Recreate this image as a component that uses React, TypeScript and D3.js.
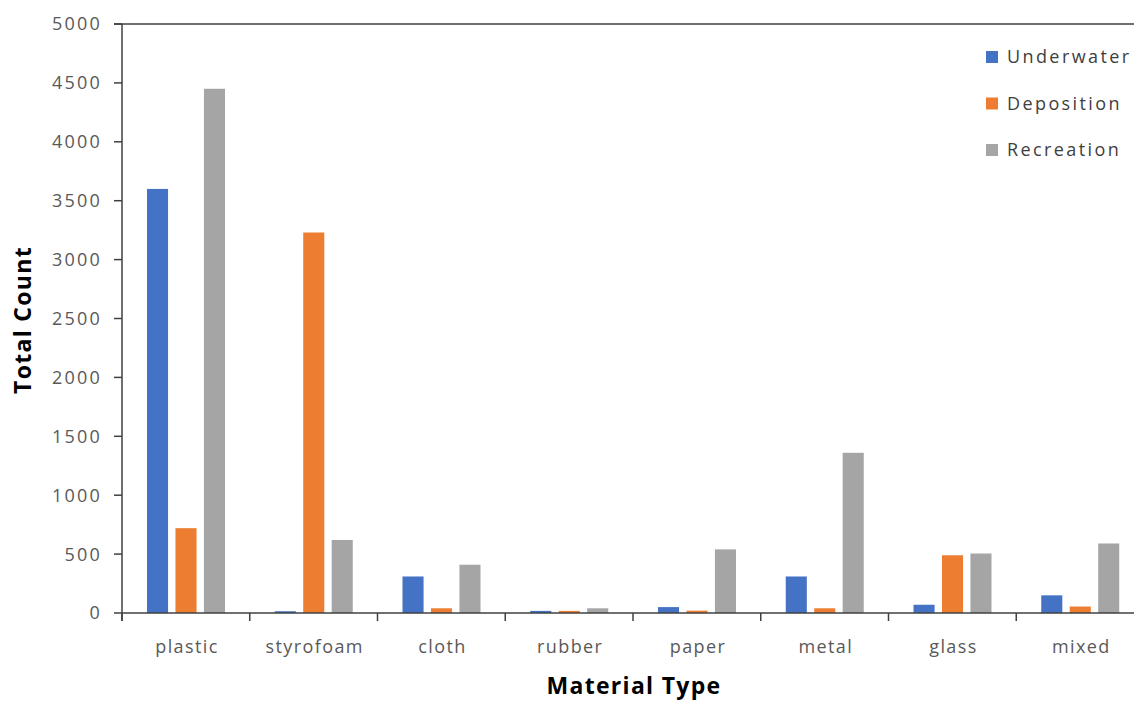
import React from "react";
import * as d3 from "d3";

const categories = ["plastic", "styrofoam", "cloth", "rubber", "paper", "metal", "glass", "mixed"];
const seriesNames = ["Underwater", "Deposition", "Recreation"];
const underwater = [3600, 15, 310, 18, 50, 310, 70, 150];
const deposition = [720, 3230, 40, 18, 20, 40, 490, 55];
const recreation = [4450, 620, 410, 40, 540, 1360, 505, 590];
const yTicks = [0, 500, 1000, 1500, 2000, 2500, 3000, 3500, 4000, 4500, 5000];
const colors = ["#4472C4", "#ED7D31", "#A5A5A5"];

const W = 1134;
const H = 701;
const left = 122;
const top = 24;
const bottom = 613;
const bandW = 127.75;

export default function App() {
  const seriesValues = [underwater, deposition, recreation];
  const y = d3.scaleLinear().domain([0, 5000]).range([bottom, top]);
  const x0 = d3
    .scaleBand<string>()
    .domain(categories)
    .range([left, left + bandW * categories.length])
    .padding(0);
  const x1 = d3.scaleBand<string>().domain(seriesNames).range([25, 103]).paddingInner(0.26).paddingOuter(0);
  const axisColor = "#404040";
  const font = "'Open Sans', 'Liberation Sans', sans-serif";
  const boundaries = d3.range(categories.length + 1).map((i) => left + i * x0.step());

  return (
    <svg
      width={W}
      height={H}
      style={{ position: "absolute", left: 0, top: 0, background: "#fff" }}
    >
      {/* bars */}
      {categories.map((c, ci) => (
        <g key={c} transform={`translate(${x0(c)},0)`}>
          {seriesNames.map((s, si) => {
            const v = seriesValues[si][ci];
            return (
              <rect
                key={s}
                x={x1(s)}
                y={y(v)}
                width={x1.bandwidth()}
                height={bottom - y(v)}
                fill={colors[si]}
              />
            );
          })}
        </g>
      ))}
      {/* top line */}
      <line x1={114} x2={W} y1={top} y2={top} stroke={axisColor} strokeWidth={1.5} />
      {/* y axis */}
      <line x1={left} x2={left} y1={top} y2={bottom + 8} stroke={axisColor} strokeWidth={1.5} />
      {yTicks.map((t) => (
        <g key={t}>
          <line x1={114} x2={left} y1={y(t)} y2={y(t)} stroke={axisColor} strokeWidth={1.5} />
          <text
            x={102}
            y={y(t)}
            dy="0.36em"
            textAnchor="end"
            fontFamily={font}
            fontSize={18}
            letterSpacing={2.2}
            fill="#595959"
          >
            {t}
          </text>
        </g>
      ))}
      {/* x axis */}
      <line x1={left} x2={W} y1={bottom} y2={bottom} stroke={axisColor} strokeWidth={1.5} />
      {boundaries.map((b, i) => (
        <line key={i} x1={b} x2={b} y1={bottom} y2={bottom + 8} stroke={axisColor} strokeWidth={1.5} />
      ))}
      {categories.map((c) => (
        <text
          key={c}
          x={(x0(c) as number) + 65}
          y={653}
          textAnchor="middle"
          fontFamily={font}
          fontSize={18}
          letterSpacing={1.4}
          fill="#595959"
        >
          {c}
        </text>
      ))}
      {/* axis titles */}
      <text
        x={634}
        y={694}
        textAnchor="middle"
        fontFamily={font}
        fontSize={23}
        fontWeight="bold"
        letterSpacing={1.3}
        fill="#000"
      >
        Material Type
      </text>
      <text
        transform={`translate(31,${320}) rotate(-90)`}
        textAnchor="middle"
        fontFamily={font}
        fontSize={23}
        fontWeight="bold"
        letterSpacing={1.3}
        fill="#000"
      >
        Total Count
      </text>
      {/* legend */}
      {seriesNames.map((s, i) => (
        <g key={s} transform={`translate(986,${57 + i * 46.5})`}>
          <rect x={0} y={-6} width={12} height={12} fill={colors[i]} />
          <text
            x={21}
            y={0}
            dy="0.36em"
            fontFamily={font}
            fontSize={18}
            letterSpacing={2.4}
            fill="#404040"
          >
            {s}
          </text>
        </g>
      ))}
    </svg>
  );
}
